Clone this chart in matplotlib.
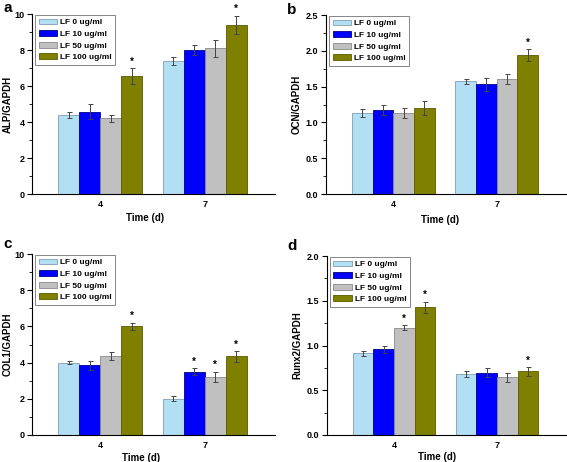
import matplotlib
matplotlib.use("Agg")
import matplotlib.pyplot as plt
import numpy as np

plt.rcParams['font.family'] = ['Liberation Sans', 'DejaVu Sans']
plt.rcParams['font.weight'] = 'bold'

days = ["4", "7"]
series = ["LF 0 ug/ml", "LF 10 ug/ml", "LF 50 ug/ml", "LF 100 ug/ml"]
colors = ["#b3dff5", "#0000ff", "#c0c0c0", "#808000"]
edges = ["#7f9fb0", "#00008a", "#8a8a8a", "#5a5a00"]

# Panel a: ALP
alp_vals = [[4.38, 7.37], [4.57, 7.98], [4.20, 8.10], [6.54, 9.41]]
alp_err = [[0.18, 0.22], [0.42, 0.28], [0.18, 0.48], [0.44, 0.50]]
alp_star = [[0, 0], [0, 0], [0, 0], [1, 1]]

# Panel b: OCN
ocn_vals = [[1.127, 1.574], [1.173, 1.53], [1.127, 1.606], [1.20, 1.937]]
ocn_err = [[0.056, 0.035], [0.075, 0.085], [0.07, 0.065], [0.10, 0.085]]
ocn_star = [[0, 0], [0, 0], [0, 0], [0, 1]]

# Panel c: COL1
col_vals = [[4.0, 2.0], [3.85, 3.5], [4.35, 3.22], [6.0, 4.35]]
col_err = [[0.09, 0.13], [0.25, 0.2], [0.23, 0.28], [0.2, 0.3]]
col_star = [[0, 0], [0, 1], [0, 1], [1, 1]]

# Panel d: Runx2
runx_vals = [[0.912, 0.68], [0.957, 0.696], [1.2, 0.644], [1.426, 0.711]]
runx_err = [[0.028, 0.034], [0.04, 0.05], [0.03, 0.05], [0.065, 0.048]]
runx_star = [[0, 0], [0, 0], [1, 0], [1, 1]]

W, H = 567, 462
fig = plt.figure(figsize=(W / 100, H / 100), dpi=100)


def make_ax(l, r, t, b):
    return fig.add_axes([l / W, (H - b) / H, (r - l) / W, (b - t) / H])


def panel(ax, vals, errs, stars, ylabel, ymax, major, letter, lpos, ylpad, xlc):
    x = np.arange(len(days))
    bw = 0.2
    for i in range(len(series)):
        pos = x + (i - 1.5) * bw
        v = np.array(vals[i])
        e = np.array(errs[i])
        ax.bar(pos, v, bw, color=colors[i], edgecolor=edges[i], linewidth=0.6,
               label=series[i], zorder=2)
        ax.errorbar(pos, v, yerr=e, fmt='none', ecolor='#444444', elinewidth=0.7,
                    capsize=1.8, capthick=0.7, zorder=3)
        for j in range(len(days)):
            if stars[i][j]:
                ax.text(pos[j], v[j] + e[j] + ymax * 0.008, '*', ha='center',
                        va='bottom', fontsize=7, fontweight='bold')
    ax.set_xlim(-0.65, 1.67)
    ax.set_ylim(0, ymax)
    ticks = np.arange(0, ymax + 1e-9, major)
    ax.set_yticks(ticks)
    ax.set_yticks(np.arange(0, ymax + 1e-9, major / 2), minor=True)
    if major < 1:
        ax.set_yticklabels([f"{t:.1f}" for t in ticks])
    else:
        ax.set_yticklabels([f"{int(t)}" for t in ticks])
    ax.set_xticks(x)
    ax.set_xticklabels(days)
    ax.spines['top'].set_visible(False)
    ax.spines['right'].set_visible(False)
    for s in ['left', 'bottom']:
        ax.spines[s].set_linewidth(0.8)
    ax.tick_params(axis='y', which='major', length=3.5, width=0.8, labelsize=6.5, pad=2)
    ax.tick_params(axis='y', which='minor', length=2, width=0.6)
    ax.tick_params(axis='x', which='major', direction='in', length=3, width=0.8,
                   labelsize=6.5, pad=4)
    for lab in ax.get_xticklabels() + ax.get_yticklabels():
        lab.set_fontweight('bold')
    ax.set_ylabel(ylabel, fontsize=7, fontweight='bold', labelpad=ylpad)
    ax.set_xlabel('Time (d)', fontsize=7, fontweight='bold')
    ax.xaxis.set_label_coords(xlc[0], xlc[1])
    leg = ax.legend(loc='upper left', bbox_to_anchor=(0.008, 1.0), fontsize=6,
                    frameon=True, fancybox=False, edgecolor='#666666',
                    handlelength=2.2, handleheight=0.7, handletextpad=0.4,
                    labelspacing=0.45, borderpad=0.4, borderaxespad=0.15)
    leg.get_frame().set_linewidth(0.7)
    for t in leg.get_texts():
        t.set_fontweight('bold')
    fig.text(lpos[0] / W, 1 - lpos[1] / H, letter, fontsize=11, fontweight='bold',
             ha='left', va='center')


ax_a = make_ax(32, 275, 14, 194)
panel(ax_a, alp_vals, alp_err, alp_star, 'ALP/GAPDH', 10, 2, 'a', (3, 8), 1,
      (0.465, -0.105))
ax_b = make_ax(326, 566, 15, 194)
panel(ax_b, ocn_vals, ocn_err, ocn_star, 'OCN/GAPDH', 2.5, 0.5, 'b', (287, 10), 3,
      (0.475, -0.12))
ax_c = make_ax(32, 275, 254, 435)
panel(ax_c, col_vals, col_err, col_star, 'COL1/GAPDH', 10, 2, 'c', (3, 244), 1,
      (0.45, -0.098))
ax_d = make_ax(327, 566, 256, 435)
panel(ax_d, runx_vals, runx_err, runx_star, 'Runx2/GAPDH', 2.0, 0.5, 'd', (287, 246), 3,
      (0.46, -0.095))

fig.savefig('out.png', dpi=100)
